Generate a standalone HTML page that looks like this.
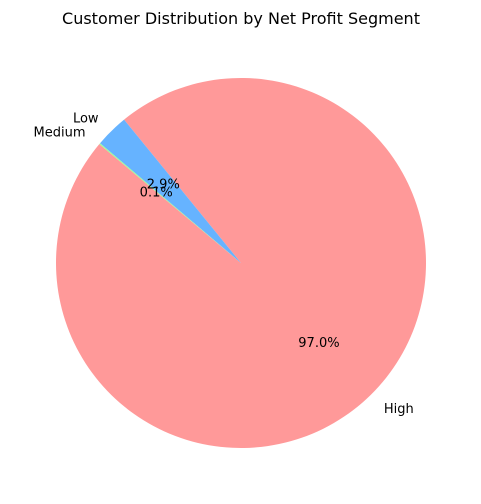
<!DOCTYPE html>
<html><head><meta charset="utf-8"><style>
html,body{margin:0;padding:0;background:#fff;}
svg{display:block;font-family:"DejaVu Sans","Liberation Sans",sans-serif;}
</style></head><body>
<svg id="chart" width="481" height="504" viewBox="0 0 481 504">
<text x="241" y="24" text-anchor="middle" font-size="16">Customer Distribution by Net Profit Segment</text>
</svg>
<script>
const labels = ["High", "Low", "Medium"];
const values = [97.0, 2.9, 0.1];
const colors = ["#ff9999", "#66b3ff", "#99ff99"];
const cx = 241, cy = 263, r = 185, startAngle = 140;
const svg = document.getElementById('chart');
const NS = 'http://www.w3.org/2000/svg';
const total = values.reduce((a, b) => a + b, 0);
let a0 = startAngle;
function pt(deg, rad) { const t = deg * Math.PI / 180; return [cx + rad * Math.cos(t), cy - rad * Math.sin(t)]; }
const texts = [];
values.forEach((v, i) => {
  const sweep = v / total * 360;
  const a1 = a0 + sweep;
  const [x0, y0] = pt(a0, r), [x1, y1] = pt(a1, r);
  const large = sweep > 180 ? 1 : 0;
  const p = document.createElementNS(NS, 'path');
  p.setAttribute('d', `M${cx},${cy} L${x0},${y0} A${r},${r} 0 ${large} 0 ${x1},${y1} Z`);
  p.setAttribute('fill', colors[i]);
  
  
  svg.appendChild(p);
  const mid = (a0 + a1) / 2;
  const [lx, ly] = pt(mid, r * 1.1);
  const c = Math.cos(mid * Math.PI / 180);
  const t = document.createElementNS(NS, 'text');
  t.setAttribute('x', lx); t.setAttribute('y', ly + 5);
  t.setAttribute('text-anchor', c < 0 ? 'end' : 'start');
  t.setAttribute('font-size', '13');
  t.textContent = labels[i];
  
  
  texts.push(t);
  const [px, py] = pt(mid, r * 0.6);
  const q = document.createElementNS(NS, 'text');
  q.setAttribute('x', px); q.setAttribute('y', py + 5);
  q.setAttribute('text-anchor', 'middle');
  q.setAttribute('font-size', '13');
  q.textContent = v.toFixed(1) + '%';
  
  
  texts.push(q);
  a0 = a1;
});
texts.forEach(t => svg.appendChild(t));
</script>
</body></html>
